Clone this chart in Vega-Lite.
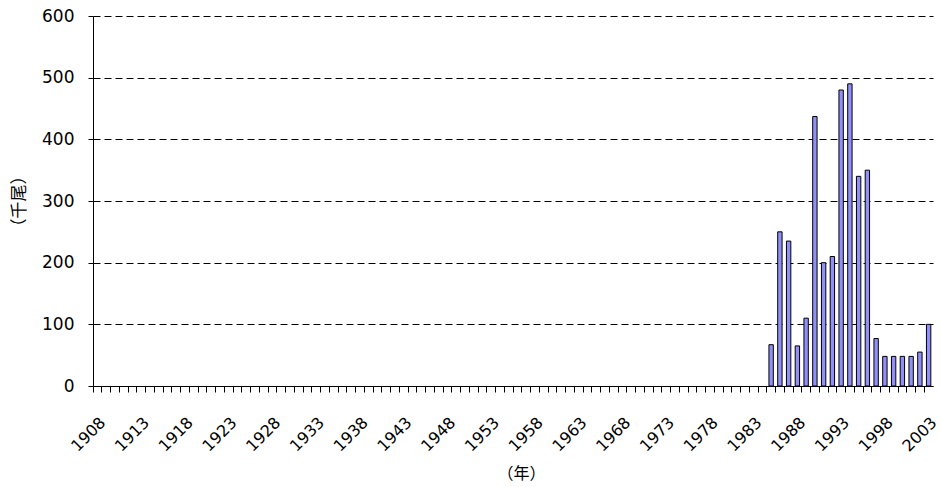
{
  "$schema": "https://vega.github.io/schema/vega-lite/v6.json",
  "autosize": {"type": "none"},
  "width": 840,
  "height": 370,
  "padding": {"left": 93, "top": 16, "right": 8, "bottom": 101},
  "background": "white",
  "config": {
    "view": {"stroke": null},
    "axis": {"labelFont": "DejaVu Sans", "titleFont": "Noto Sans CJK JP", "labelColor": "#000", "titleColor": "#000", "domainColor": "#000", "tickColor": "#000"}
  },
  "data": {
    "values": [
      {"year": 1985, "value": 67},
      {"year": 1986, "value": 250},
      {"year": 1987, "value": 235},
      {"year": 1988, "value": 65},
      {"year": 1989, "value": 110},
      {"year": 1990, "value": 437},
      {"year": 1991, "value": 200},
      {"year": 1992, "value": 210},
      {"year": 1993, "value": 480},
      {"year": 1994, "value": 490},
      {"year": 1995, "value": 340},
      {"year": 1996, "value": 350},
      {"year": 1997, "value": 77},
      {"year": 1998, "value": 48},
      {"year": 1999, "value": 48},
      {"year": 2000, "value": 48},
      {"year": 2001, "value": 48},
      {"year": 2002, "value": 55},
      {"year": 2003, "value": 100}
    ]
  },
  "mark": {"type": "bar", "fill": "#9090F8", "stroke": "#000", "strokeWidth": 1, "width": {"band": 0.5}},
  "encoding": {
    "x": {
      "field": "year",
      "type": "ordinal",
      "scale": {
        "domain": [1908,1909,1910,1911,1912,1913,1914,1915,1916,1917,1918,1919,1920,1921,1922,1923,1924,1925,1926,1927,1928,1929,1930,1931,1932,1933,1934,1935,1936,1937,1938,1939,1940,1941,1942,1943,1944,1945,1946,1947,1948,1949,1950,1951,1952,1953,1954,1955,1956,1957,1958,1959,1960,1961,1962,1963,1964,1965,1966,1967,1968,1969,1970,1971,1972,1973,1974,1975,1976,1977,1978,1979,1980,1981,1982,1983,1984,1985,1986,1987,1988,1989,1990,1991,1992,1993,1994,1995,1996,1997,1998,1999,2000,2001,2002,2003],
        "paddingInner": 0,
        "paddingOuter": 0
      },
      "axis": {
        "title": "（年）",
        "titleFontSize": 16,
        "titleFontWeight": "normal",
        "titleX": 428,
        "titleY": 87,
        "titleAlign": "center",
        "titleBaseline": "middle",
        "labelExpr": "(datum.value - 1908) % 5 == 0 ? datum.label : ''",
        "labelAngle": -45,
        "labelAlign": "right",
        "labelBaseline": "top",
        "labelFontSize": 16,
        "labelPadding": 22,
        "labelDx": 3,
        "labelOverlap": false,
        "bandPosition": 0,
        "tickSize": 6,
        "tickWidth": 1,
        "domainWidth": 1,
        "grid": false
      }
    },
    "y": {
      "field": "value",
      "type": "quantitative",
      "scale": {"domain": [0, 600], "nice": false},
      "axis": {
        "title": "（千尾）",
        "titleFontSize": 17,
        "titleFontWeight": "normal",
        "titleAngle": -90,
        "titleX": -74,
        "titleY": 185,
        "titleAlign": "center",
        "titleBaseline": "middle",
        "values": [0, 100, 200, 300, 400, 500, 600],
        "labelFontSize": 17,
        "labelPadding": 14,
        "labelDy": 1,
        "tickSize": 5,
        "tickWidth": 1,
        "domainWidth": 1,
        "grid": true,
        "gridColor": "#000",
        "gridDash": [7, 4],
        "gridWidth": 1
      }
    }
  }
}
